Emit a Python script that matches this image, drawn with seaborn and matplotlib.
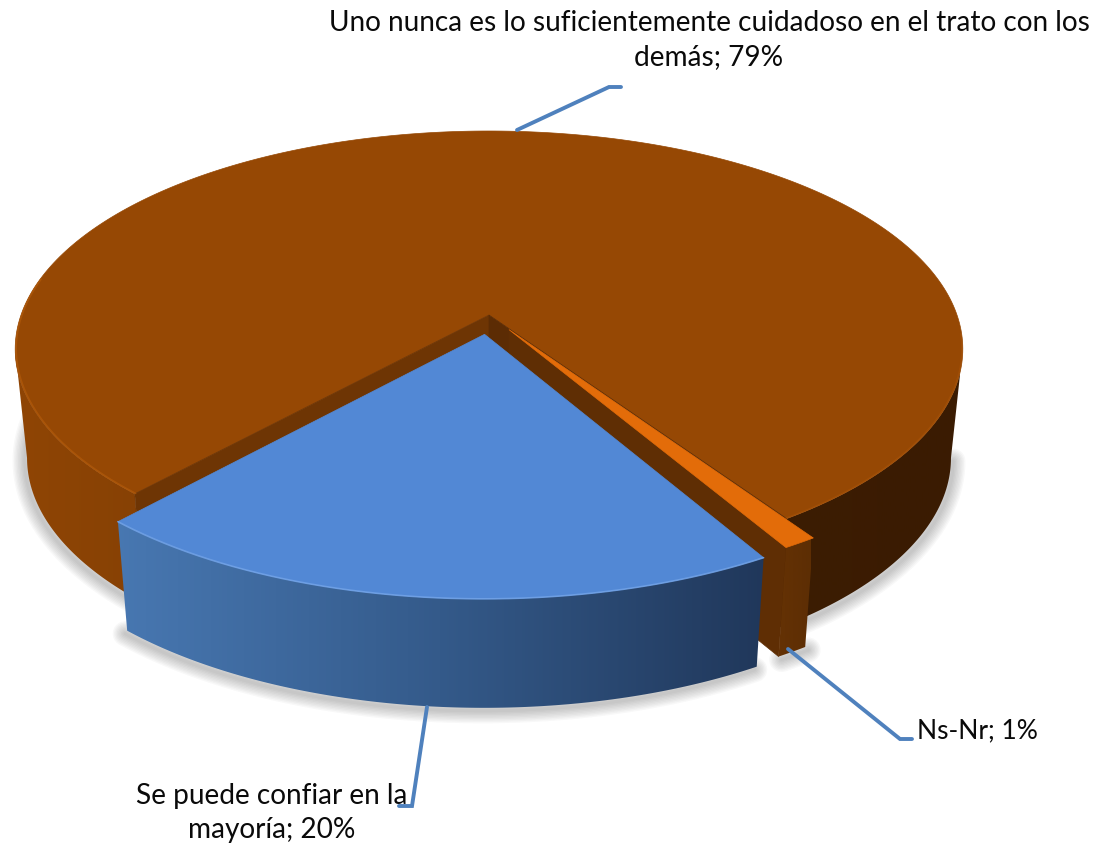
import numpy as np
import seaborn as sns
import matplotlib.pyplot as plt
from matplotlib.patches import Polygon

etiquetas = ["Se puede confiar en la\nmayoría; 20%",
             "Uno nunca es lo suficientemente cuidadoso en el trato con los\ndemás; 79%",
             "Ns-Nr; 1%"]
valores = [20, 79, 1]
separacion = [0.09, 0.0, 0.08]

sns.set_theme(style="white")
plt.rcParams["font.family"] = ["Lato", "DejaVu Sans"]

# geometria de la torta en pixeles
cx, y0, R, S, k = 489, 316, 468, 212.7, 0.156
prof, enc = 109, 0.975
inicio = 30
r_azul = 1.015
# angulo donde el borde de la elipse llega a su extremo
extremo = np.degrees(np.arccos(k))


def proy(teta, r=1.0, sep=0.0, medio=0.0, abajo=False):
    t = np.radians(teta)
    m = np.radians(medio)
    u = r * np.sin(t) + sep * np.sin(m)
    v = r * np.cos(t) + sep * np.cos(m)
    w = 1 - k * v
    x = cx + R * u / w
    y = y0 + S * v / w
    if abajo:
        x = cx + enc * (x - cx)
        y = y + prof
    return np.column_stack([x, y])


def cara_sup(ax, a, b, sep, medio, color, z, r=1.0):
    t = np.linspace(a, b, 300)
    borde = proy(t, r, sep, medio)
    centro = proy(np.array([0.0]), 0, sep, medio)
    ax.fill(*np.vstack([centro, borde]).T, color=color, lw=0.5, zorder=z)


def lado(ax, a, b, sep, medio, paleta, x1, x2, z=2, r=1.0):
    t = np.linspace(a, b, 160)
    arr = proy(t, r, sep, medio)
    aba = proy(t, r, sep, medio, abajo=True)
    poli = Polygon(np.vstack([arr, aba[::-1]]), transform=ax.transData,
                   fc="none", ec="none")
    ax.add_patch(poli)
    im = ax.imshow(np.array(paleta)[None, :, :], extent=[x1, x2, 845, 0],
                   aspect="auto", interpolation="bilinear", zorder=z)
    im.set_clip_path(poli)


def pared(ax, teta, sep, medio, color, z):
    a = proy(np.array([teta, teta]), np.array([0.0, 1.0]), sep, medio)
    c = proy(np.array([teta, teta]), np.array([0.0, 1.0]), sep, medio, abajo=True)
    q = np.vstack([a, c[::-1]])
    ax.fill(q[:, 0], q[:, 1], color=color, lw=0.5, zorder=z)


def sombra(ax, a, b, sep, medio, dx=-2, dy=3, r=1.0):
    t = np.linspace(a, b, 200)
    aba = proy(t, r, sep, medio, abajo=True)
    for lw in range(2, 20, 2):
        ax.plot(aba[:, 0] + dx, aba[:, 1] + dy, color="#404040", alpha=0.035,
                lw=lw, solid_capstyle="round", zorder=1)


angulos = np.array(valores) * 3.6
b_ini, b_fin = inicio, inicio - angulos[0]
m_ini, m_fin = b_fin, b_fin - angulos[1]
o_ini, o_fin = m_fin, m_fin - angulos[2]
b_med = (b_ini + b_fin) / 2
o_med = (o_ini + o_fin) / 2

fig = plt.figure(figsize=(10.97, 8.45), dpi=100)
ax = fig.add_axes([0, 0, 1, 1])

# sombras
sombra(ax, m_ini, -extremo - 12, 0, 0)
sombra(ax, m_fin + 360, extremo, 0, 0, dx=2)
sombra(ax, b_ini, b_fin, separacion[0], b_med, r=r_azul)
sombra(ax, o_ini + 360, o_fin + 360, separacion[2], o_med, dx=3)

# marron
cafe = sns.blend_palette(["#8f4505", "#7a3b04", "#3e1e02", "#3a1b02"], 200)
lado(ax, m_ini, -extremo, 0, 0, cafe, 15, 960)
lado(ax, m_fin + 360, extremo, 0, 0, cafe, 15, 960)
cara_sup(ax, m_ini, m_fin, 0, 0, "#964804", 5)
pared(ax, m_ini, 0, 0, "#6e3504", 6)
pared(ax, m_fin, 0, 0, "#5c2c04", 6)

# naranja
sep_o = separacion[2]
pared(ax, o_fin, sep_o, o_med, "#5f2e04", 7)
lado(ax, o_ini, o_fin, sep_o, o_med,
     sns.blend_palette(["#653204", "#5d2e04"], 20), 776, 811, z=7)
cara_sup(ax, o_ini, o_fin, sep_o, o_med, "#e36c09", 8)

# azul
azul = sns.blend_palette(["#4878b2", "#345a8a", "#20375a"], 200)
lado(ax, b_ini, b_fin, separacion[0], b_med, azul, 110, 770, z=9, r=r_azul)
cara_sup(ax, b_ini, b_fin, separacion[0], b_med, "#5288d5", 10, r=r_azul)

# brillo de los bordes
t = np.linspace(b_ini, b_fin, 200)
p = proy(t, r_azul, separacion[0], b_med)
ax.plot(p[:, 0], p[:, 1], color="#73a4e8", lw=1.2, alpha=0.8, zorder=11)
t = np.linspace(m_ini, -100, 200)
p = proy(t, 0.998)
ax.plot(p[:, 0], p[:, 1], color="#b25a0a", lw=1.2, alpha=0.7, zorder=6)
t = np.linspace(m_fin + 360, 85, 200)
p = proy(t, 0.998)
ax.plot(p[:, 0], p[:, 1], color="#a85206", lw=1.0, alpha=0.6, zorder=6)

# lineas guia
guia = dict(color="#4f81bd", lw=2.8, solid_joinstyle="miter", zorder=12)
ax.plot([517, 609, 621], [131, 88, 88], **guia)
ax.plot([788, 900, 912], [650, 740, 740], **guia)
ax.plot([427, 412, 399], [708, 807, 807], **guia)

# textos
tam = 20.2
ax.text(709, 40, etiquetas[1], ha="center", va="center", fontsize=tam,
        color="#0a0a0a", linespacing=1.42, zorder=13)
ax.text(272, 813, etiquetas[0], ha="center", va="center", fontsize=tam,
        color="#0a0a0a", linespacing=1.42, zorder=13)
ax.text(917, 731, etiquetas[2], ha="left", va="center", fontsize=19,
        color="#0a0a0a", zorder=13)

ax.set_xlim(0, 1097)
ax.set_ylim(845, 0)
ax.axis("off")

fig.savefig("out.png", dpi=100, facecolor="white")
